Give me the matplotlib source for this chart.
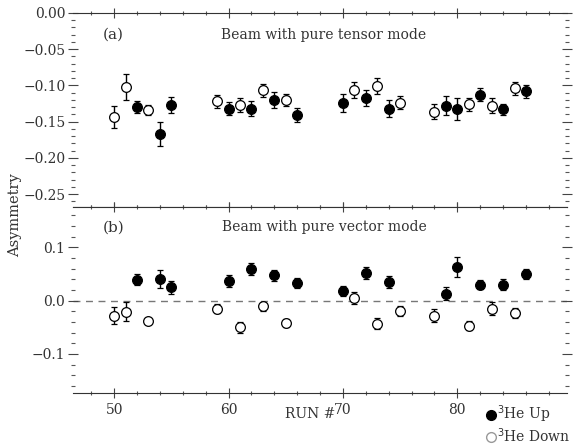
import matplotlib
matplotlib.use("Agg")
import matplotlib.pyplot as plt
from matplotlib.ticker import MultipleLocator
from matplotlib.lines import Line2D

plt.rcParams['font.family'] = ['DejaVu Serif']

# ---- Data ----
# Panel (a): tensor mode
a_up_run = [52, 54, 55, 60, 62, 64, 66, 70, 72, 74, 79, 80, 82, 84, 86]
a_up_val = [-0.130, -0.167, -0.127, -0.132, -0.132, -0.120, -0.141, -0.124, -0.117, -0.132,
            -0.128, -0.133, -0.113, -0.133, -0.108]
a_up_err = [0.008, 0.016, 0.011, 0.009, 0.010, 0.011, 0.010, 0.012, 0.011, 0.012,
            0.013, 0.015, 0.009, 0.008, 0.009]
a_dn_run = [50, 51, 53, 59, 61, 63, 65, 71, 73, 75, 78, 81, 83, 85]
a_dn_val = [-0.144, -0.102, -0.134, -0.122, -0.127, -0.107, -0.120, -0.106, -0.101, -0.124,
            -0.136, -0.126, -0.128, -0.104]
a_dn_err = [0.015, 0.018, 0.007, 0.009, 0.010, 0.009, 0.008, 0.011, 0.011, 0.009,
            0.011, 0.009, 0.010, 0.009]

# Panel (b): vector mode
b_up_run = [52, 54, 55, 60, 62, 64, 66, 70, 72, 74, 79, 80, 82, 84, 86]
b_up_val = [0.039, 0.040, 0.025, 0.037, 0.059, 0.047, 0.033, 0.018, 0.051, 0.035,
            0.013, 0.063, 0.030, 0.030, 0.050]
b_up_err = [0.010, 0.017, 0.012, 0.011, 0.012, 0.011, 0.010, 0.010, 0.011, 0.011,
            0.012, 0.018, 0.009, 0.010, 0.010]
b_dn_run = [50, 51, 53, 59, 61, 63, 65, 71, 73, 75, 78, 81, 83, 85]
b_dn_val = [-0.028, -0.021, -0.038, -0.015, -0.050, -0.011, -0.042, 0.005, -0.043, -0.020,
            -0.028, -0.047, -0.015, -0.023]
b_dn_err = [0.016, 0.018, 0.006, 0.009, 0.010, 0.009, 0.008, 0.011, 0.010, 0.009,
            0.012, 0.008, 0.012, 0.009]

x_ticks = [50, 60, 70, 80]
a_yticks = [0.00, -0.05, -0.10, -0.15, -0.20, -0.25]
b_yticks = [0.1, 0.0, -0.1]

# ---- Figure ----
fig = plt.figure(figsize=(5.77, 4.46), dpi=100)
ax1 = fig.add_axes([0.1265, 0.5355, 0.8565, 0.4355])
ax2 = fig.add_axes([0.1265, 0.119, 0.8565, 0.4165], sharex=ax1)

ms = 7
def plot_series(ax, r, v, e, filled):
    ax.errorbar(r, v, yerr=e, fmt='o', ms=ms, mfc='black' if filled else 'white',
                mec='black', mew=0.9, ecolor='black', elinewidth=1.0, capsize=2.2,
                capthick=1.0, zorder=3)

plot_series(ax1, a_dn_run, a_dn_val, a_dn_err, False)
plot_series(ax1, a_up_run, a_up_val, a_up_err, True)
plot_series(ax2, b_dn_run, b_dn_val, b_dn_err, False)
plot_series(ax2, b_up_run, b_up_val, b_up_err, True)

ax2.axhline(0.0, color='#777777', lw=1.0, ls=(0, (5, 4)), zorder=1)

ax1.set_xlim(46.4, 89.6)
ax1.set_ylim(-0.268, 0.0)
ax2.set_ylim(-0.173, 0.175)

for ax in (ax1, ax2):
    ax.xaxis.set_major_locator(MultipleLocator(10))
    ax.xaxis.set_minor_locator(MultipleLocator(2))
    ax.tick_params(which='both', direction='inout', top=True, bottom=True,
                   left=True, right=True, labelsize=10)
    ax.tick_params(which='major', length=7, width=0.8, color='#444444')
    ax.tick_params(which='minor', length=3, width=0.8, color='#555555')
    ax.tick_params(axis='y', pad=2)
    ax.spines['left'].set_visible(False)
    ax.spines['right'].set_visible(False)
    ax.spines['top'].set_color('#333333')
    ax.spines['bottom'].set_color('#333333')

ax1.set_yticks(a_yticks)
ax1.set_yticklabels(['0.00', '\u22120.05', '\u22120.10', '\u22120.15', '\u22120.20', '\u22120.25'],
                    color='#333333')
ax1.yaxis.set_minor_locator(MultipleLocator(0.01))
ax1.tick_params(axis='x', labelbottom=False)

ax2.set_yticks(b_yticks)
ax2.set_yticklabels(['0.1', '0.0', '\u22120.1'], color='#333333')
ax2.yaxis.set_minor_locator(MultipleLocator(0.02))
ax2.set_xticks(x_ticks)
ax2.set_xticklabels([str(t) for t in x_ticks], color='#333333')
ax2.tick_params(axis='x', pad=4)

ax1.text(0.06, 0.865, '(a)', transform=ax1.transAxes, fontsize=11, color='#333333')
ax1.text(0.508, 0.865, 'Beam with pure tensor mode', transform=ax1.transAxes,
         ha='center', fontsize=10, color='#333333')
ax2.text(0.06, 0.87, '(b)', transform=ax2.transAxes, fontsize=11, color='#333333')
ax2.text(0.508, 0.87, 'Beam with pure vector mode', transform=ax2.transAxes,
         ha='center', fontsize=10, color='#333333')

fig.text(0.538, 0.072, 'RUN #', ha='center', va='center', fontsize=10, color='#333333')
fig.text(0.027, 0.518, 'Asymmetry', rotation=90, va='center', ha='center',
         fontsize=10.5, color='#333333')

# legend (below the lower panel, right side)
fig.add_artist(Line2D([0.851], [0.070], transform=fig.transFigure, marker='o', ms=7,
                      mfc='black', mec='black', ls='none'))
fig.add_artist(Line2D([0.851], [0.021], transform=fig.transFigure, marker='o', ms=7,
                      mfc='white', mec='#999999', ls='none'))
fig.text(0.862, 0.072, '$^3$He Up', va='center', ha='left', fontsize=10, color='#333333')
fig.text(0.862, 0.023, '$^3$He Down', va='center', ha='left', fontsize=10, color='#333333')

fig.savefig('out.png', dpi=100)
